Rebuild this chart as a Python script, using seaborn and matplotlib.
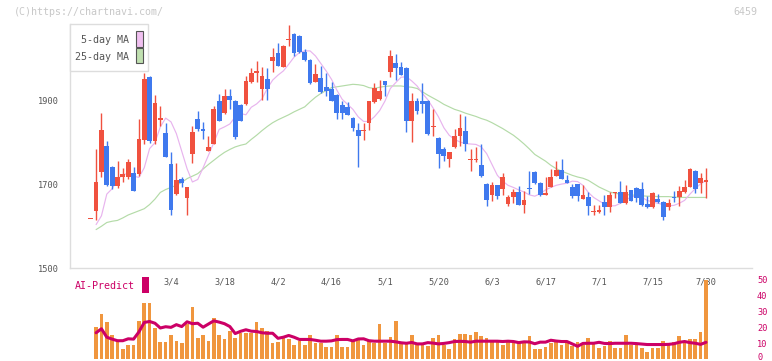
import numpy as np
import pandas as pd
import matplotlib
matplotlib.use("Agg")
import matplotlib.pyplot as plt
import seaborn as sns
from matplotlib.patches import Rectangle
from matplotlib.transforms import ScaledTranslation

# --- DATA ---
date_labels = ['3/4', '3/18', '4/2', '4/16', '5/1', '5/20', '6/3', '6/17', '7/1', '7/15', '7/30']
label_pos = [15, 25, 35, 45, 55, 65, 75, 85, 95, 105, 115]

opens = [1617, 1637, 1730, 1793, 1742, 1697, 1717, 1717, 1727, 1724,
         1807, 1958, 1803, 1855, 1823, 1750, 1678, 1713, 1667, 1772,
         1857, 1834, 1780, 1796, 1900, 1872, 1912, 1900, 1890, 1892,
         1946, 1966, 1928, 1952, 1997, 2016, 1981, 2045, 2060, 2056,
         2017, 1999, 1946, 1955, 1934, 1928, 1914, 1890, 1885, 1860,
         1831, 1829, 1847, 1898, 1904, 1947, 1969, 1991, 1981, 1979,
         1853, 1900, 1900, 1900, 1838, 1811, 1785, 1762, 1789, 1815,
         1829, 1758, 1759, 1746, 1701, 1675, 1698, 1689, 1653, 1669,
         1682, 1652, 1692, 1730, 1703, 1675, 1693, 1720, 1734, 1711,
         1693, 1701, 1665, 1669, 1635, 1635, 1657, 1645, 1679, 1681,
         1656, 1686, 1691, 1689, 1653, 1645, 1665, 1659, 1647, 1670,
         1671, 1682, 1693, 1732, 1703, 1706]
closes = [1617, 1705, 1831, 1699, 1697, 1718, 1724, 1754, 1685, 1810,
          1952, 1803, 1896, 1859, 1765, 1639, 1710, 1703, 1694, 1825,
          1833, 1829, 1790, 1881, 1853, 1912, 1902, 1813, 1853, 1948,
          1967, 1971, 1959, 1928, 2005, 1984, 2031, 2048, 2015, 2017,
          1999, 1942, 1964, 1922, 1924, 1901, 1872, 1871, 1867, 1835,
          1817, 1831, 1900, 1932, 1924, 1938, 2007, 1978, 1963, 1851,
          1900, 1875, 1892, 1821, 1840, 1772, 1768, 1777, 1817, 1835,
          1797, 1760, 1761, 1720, 1663, 1698, 1673, 1717, 1671, 1682,
          1652, 1663, 1689, 1703, 1675, 1679, 1718, 1734, 1714, 1703,
          1673, 1673, 1675, 1649, 1637, 1640, 1645, 1675, 1681, 1656,
          1681, 1661, 1668, 1652, 1645, 1679, 1657, 1623, 1656, 1667,
          1685, 1693, 1736, 1689, 1715, 1710]
highs = [1617, 1786, 1872, 1803, 1745, 1756, 1740, 1760, 1742, 1857,
         1966, 1960, 1914, 1888, 1848, 1778, 1752, 1718, 1694, 1839,
         1875, 1849, 1817, 1888, 1916, 1928, 1928, 1902, 1892, 1960,
         1979, 1995, 1981, 1979, 2027, 2038, 2035, 2083, 2062, 2058,
         2025, 2001, 1988, 1983, 1966, 1946, 1916, 1901, 1898, 1861,
         1847, 1847, 1901, 1942, 1950, 1949, 2023, 2013, 1993, 1981,
         1918, 1907, 1942, 1902, 1881, 1813, 1790, 1779, 1833, 1869,
         1864, 1784, 1790, 1796, 1703, 1706, 1700, 1728, 1675, 1689,
         1697, 1685, 1732, 1732, 1705, 1719, 1738, 1756, 1762, 1722,
         1701, 1702, 1698, 1681, 1651, 1651, 1675, 1681, 1683, 1709,
         1698, 1688, 1693, 1706, 1672, 1681, 1677, 1661, 1665, 1685,
         1697, 1711, 1739, 1735, 1727, 1739]
lows = [1617, 1615, 1719, 1697, 1690, 1691, 1705, 1712, 1685, 1720,
        1796, 1800, 1798, 1839, 1765, 1626, 1676, 1693, 1627, 1752,
        1829, 1809, 1780, 1796, 1853, 1870, 1882, 1810, 1851, 1890,
        1944, 1946, 1902, 1902, 1969, 1984, 1981, 2031, 2007, 2015,
        1997, 1940, 1946, 1918, 1913, 1899, 1858, 1857, 1867, 1829,
        1742, 1806, 1831, 1896, 1902, 1912, 1958, 1950, 1963, 1826,
        1801, 1869, 1871, 1819, 1817, 1740, 1756, 1742, 1787, 1793,
        1780, 1732, 1754, 1718, 1649, 1661, 1665, 1675, 1649, 1656,
        1652, 1631, 1677, 1701, 1673, 1675, 1693, 1720, 1712, 1703,
        1667, 1661, 1665, 1627, 1626, 1632, 1626, 1635, 1667, 1656,
        1653, 1661, 1659, 1649, 1643, 1643, 1655, 1616, 1639, 1657,
        1649, 1680, 1693, 1679, 1679, 1668]

# moving averages, from the second day on
ma5 = [1604, 1625, 1677, 1690, 1712, 1724, 1726, 1720, 1717, 1740,
       1786, 1800, 1838, 1859, 1850, 1822, 1780, 1738, 1706, 1712,
       1740, 1770, 1800, 1832, 1838, 1845, 1862, 1870, 1867, 1885,
       1893, 1905, 1930, 1950, 1962, 1972, 1988, 2005, 2016, 2020,
       2020, 2008, 1990, 1972, 1952, 1926, 1904, 1892, 1880, 1862,
       1851, 1851, 1862, 1877, 1900, 1930, 1944, 1957, 1958, 1948,
       1936, 1918, 1903, 1883, 1862, 1836, 1818, 1808, 1802, 1798,
       1797, 1796, 1790, 1774, 1748, 1722, 1708, 1698, 1693, 1687,
       1682, 1675, 1672, 1678, 1687, 1693, 1698, 1701, 1703, 1708,
       1707, 1698, 1681, 1669, 1661, 1653, 1649, 1649, 1655, 1663,
       1670, 1673, 1669, 1662, 1658, 1655, 1652, 1649, 1650, 1655,
       1662, 1677, 1690, 1702, 1709]
ma25 = [1592, 1600, 1609, 1612, 1614, 1620, 1627, 1632, 1637, 1642,
        1652, 1665, 1681, 1688, 1693, 1698, 1705, 1714, 1720, 1726,
        1737, 1748, 1758, 1768, 1777, 1784, 1790, 1794, 1797, 1808,
        1818, 1829, 1839, 1848, 1855, 1861, 1867, 1874, 1880, 1886,
        1898, 1909, 1918, 1925, 1932, 1934, 1936, 1938, 1940, 1939,
        1937, 1932, 1930, 1933, 1935, 1936, 1936, 1936, 1934, 1933,
        1930, 1922, 1914, 1907, 1900, 1892, 1886, 1880, 1876, 1871,
        1867, 1863, 1858, 1854, 1848, 1841, 1834, 1826, 1818, 1808,
        1797, 1785, 1772, 1764, 1756, 1746, 1738, 1732, 1727, 1722,
        1718, 1715, 1710, 1702, 1694, 1688, 1682, 1679, 1677, 1676,
        1675, 1674, 1673, 1672, 1672, 1671, 1671, 1671, 1670, 1669,
        1669, 1669, 1669, 1669, 1669]

# AI-Predict panel
ai_bars = [20.4, 28.6, 23, 14.8, 12, 6.6, 9.1, 8.5, 23.6, 35.5,
           35.5, 19.2, 10.6, 10.6, 14.8, 11.6, 9.9, 21.9, 33, 13.5,
           15.4, 11.6, 25.5, 14.8, 12.3, 17.3, 12.9, 16.2, 16.2,
           16.2, 23, 19.2, 17.9, 9.9, 10.6, 13.7, 12.3, 8.5, 11.6,
           9.1, 15.4, 9.9, 9.9, 7.4, 7.4, 15.4, 7.4, 7.4, 11.2,
           12.3, 9.1, 11.6, 9.9, 21.7, 9.9, 13.7, 24.2, 9.9, 10.6,
           14.8, 8.5, 8.5, 8, 12.9, 14.8, 8.5, 6, 12.3, 16,
           16, 14.8, 16.7, 14.2, 13.5, 11.6, 10.6, 8.5, 11.6,
           10.6, 10.6, 10.6, 14.2, 6, 6, 7.4, 9.9, 10.6, 8.5,
           10.6, 8, 10.6, 9.1, 12.9, 10.6, 7.2, 8, 11.6, 7.2,
           6.7, 15.4, 8.5, 9.9, 6.7, 4.1, 6.7, 6.7, 11.6, 8.5,
           11, 14.2, 10.6, 12.3, 12.3, 16.7, 49.8]
ai_line = [16.5, 19, 13.7, 12.5, 11.5, 11.5, 12.7, 12.5, 17, 23,
           23.6, 22.5, 19.5, 20.3, 19.9, 21.6, 20.4, 23.4, 22.2, 22.5,
           20, 22, 24, 23.2, 22.2, 20.4, 16, 17.4, 18.4, 17.5,
           17.3, 16.5, 16.2, 16.2, 13, 13.7, 14.8, 13.7, 12.3, 12.3,
           12.3, 11.8, 11.2, 11.2, 11.4, 12.2, 12.3, 12.3, 11.4, 12.6,
           12.7, 11.5, 11.2, 11.2, 11.2, 11.2, 10.8, 10.2, 9.9, 10.4,
           9.5, 9.5, 10.3, 10, 9.5, 9.8, 10.3, 11, 11.1, 11,
           10.6, 11.2, 11.2, 11.2, 11.2, 11.2, 11.0, 11.2, 11, 10.3,
           10.8, 10.7, 9.6, 10.6, 10.6, 11.8, 11.3, 11, 11, 9.5,
           8, 9.8, 9.9, 9.9, 10.5, 9.8, 9.7, 9.9, 9.9, 9.9,
           9.9, 9.7, 9.4, 9.1, 9.1, 9.1, 9.1, 9.2, 9.6, 10.5,
           11, 10.3, 9.9, 9.2, 10.5]

price_ticks = [1500, 1700, 1900]
ai_ticks = [0, 10, 20, 30, 40, 50]

# --- STYLE ---
sns.set_style("white")
plt.rcParams['font.family'] = ['DejaVu Sans Mono']

RED, BLUE = '#f0513f', '#3f79ee'
PINK, GREEN = '#e8b4ee', '#b4dba8'
CRIMSON, ORANGE = '#cc0066', '#f0963e'
GRID = '#dddddd'

W, H = 772, 361
fig = plt.figure(figsize=(W / 100, H / 100), dpi=100)
fig.patch.set_facecolor('white')

def fx(px):
    return px / W

def fy(py):
    return 1 - py / H

ax = fig.add_axes([fx(70), fy(268), (752 - 70) / W, (268 - 24) / H])
ax2 = fig.add_axes([fx(70), fy(359), (752 - 70) / W, (359 - 277) / H])

df = pd.DataFrame({'open': opens, 'high': highs, 'low': lows, 'close': closes})
df['idx'] = np.arange(len(df))
df['color'] = np.where(df['close'] >= df['open'], RED, BLUE)
body = (df['close'] - df['open']).abs().clip(lower=2.5)
bottom = df[['open', 'close']].min(axis=1)

ma = pd.DataFrame({'idx': np.arange(1, len(ma5) + 1), 'ma5': ma5, 'ma25': ma25})
ai = pd.DataFrame({'idx': np.arange(1, len(ai_bars) + 1), 'bar': ai_bars, 'line': ai_line})

# --- MAIN PRICE PANEL ---
sns.lineplot(data=ma, x='idx', y='ma25', ax=ax, color=GREEN, lw=0.85, sort=False, zorder=1)
sns.lineplot(data=ma, x='idx', y='ma5', ax=ax, color=PINK, lw=0.85, sort=False, zorder=1)
ax.vlines(df['idx'], df['low'], df['high'], colors=df['color'], lw=1.0, zorder=2)
ax.bar(df['idx'], body, bottom=bottom, width=0.88, color=df['color'], lw=0, zorder=3)

step = 5.35  # px per trading day
x0 = 90.75   # px of the first day
xl = ((70 - x0) / step, (752 - x0) / step)
ax.set_xlim(*xl)
ax.set_ylim(1500, 1500 + 244 / 0.4175)
ax.set_xlabel('')
ax.set_ylabel('')

for s in ['top', 'right']:
    ax.spines[s].set_visible(False)
for s in ['left', 'bottom']:
    ax.spines[s].set_color(GRID)
    ax.spines[s].set_linewidth(1)

ax.set_xticks(np.linspace(xl[0], xl[1], 12))
ax.set_xticks(label_pos, minor=True)
ax.set_xticklabels(date_labels, minor=True)
ax.tick_params(axis='x', which='major', direction='inout', length=6.5, width=0.8,
               color=GRID, labelbottom=False)
ax.tick_params(axis='x', which='minor', length=0, pad=7, labelsize=6.2, labelcolor='#555555')
ax.set_yticks(price_ticks)
ax.tick_params(axis='y', direction='out', length=2.2, width=0.8, color=GRID, pad=5.5,
               labelsize=6.2, labelcolor='#555555')

# --- AI-PREDICT PANEL ---
ax2.bar(ai['idx'], ai['bar'], width=0.68, color=ORANGE, lw=0, zorder=1)
sns.lineplot(data=ai, x='idx', y='line', ax=ax2, color=CRIMSON, lw=2.2, sort=False, zorder=2)
ax2.set_xlim(*xl)
ax2.set_ylim(0, (359 - 277) / 1.59)
ax2.patch.set_alpha(0)
for s in ax2.spines.values():
    s.set_visible(False)
ax2.set_xticks([])
ax2.set_xlabel('')
ax2.set_ylabel('')
ax2.yaxis.tick_right()
ax2.set_yticks(ai_ticks)
ax2.tick_params(axis='y', length=0, pad=3.6, labelsize=6.2, labelcolor=CRIMSON)
# nudge the bottom "0" up a little so it stays inside the image
lab0 = ax2.get_yticklabels()[0]
lab0.set_transform(lab0.get_transform() + ScaledTranslation(0, 2.5 / 100, fig.dpi_scale_trans))

# --- TEXTS, LEGEND ---
fig.text(fx(14), fy(12), '(C)https://chartnavi.com/', color='#c8c8c8', fontsize=7.2,
         ha='left', va='center')
fig.text(fx(757), fy(12), '6459', color='#c8c8c8', fontsize=7.2, ha='right', va='center')

fig.add_artist(Rectangle((fx(70), fy(71)), 78 / W, 47 / H, transform=fig.transFigure,
                         facecolor='white', edgecolor=GRID, lw=1, zorder=5))
fig.text(fx(129), fy(40), '5-day MA', color='#555555', fontsize=7.2, ha='right', va='center', zorder=6)
fig.text(fx(129), fy(57), '25-day MA', color='#555555', fontsize=7.2, ha='right', va='center', zorder=6)
fig.add_artist(Rectangle((fx(136), fy(46.7)), 6.7 / W, 15.4 / H, transform=fig.transFigure,
                         facecolor='#f0c0f0', edgecolor='#555555', lw=0.8, zorder=6))
fig.add_artist(Rectangle((fx(136), fy(63.3)), 6.7 / W, 15.0 / H, transform=fig.transFigure,
                         facecolor='#c0e0b0', edgecolor='#555555', lw=0.8, zorder=6))

fig.text(fx(75), fy(286), 'AI-Predict', color=CRIMSON, fontsize=7.2, ha='left', va='center')
fig.add_artist(Rectangle((fx(142), fy(292.7)), 7 / W, 16 / H, transform=fig.transFigure,
                         facecolor=CRIMSON, edgecolor='none', zorder=6))

fig.savefig('out.png', dpi=100, facecolor='white')
